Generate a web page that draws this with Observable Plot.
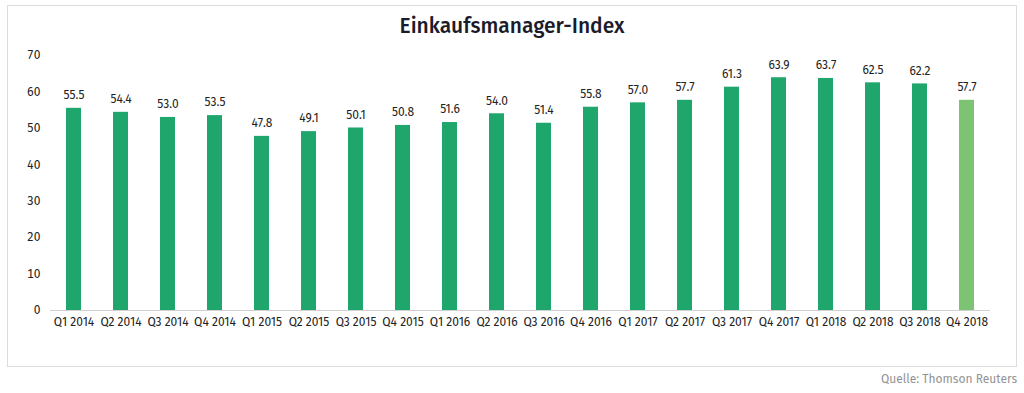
<!DOCTYPE html>
<html>
<head>
<meta charset="utf-8">
<script src="https://cdn.jsdelivr.net/npm/d3@7"></script>
<script src="https://cdn.jsdelivr.net/npm/@observablehq/plot@0.6"></script>
<style>
  html, body { margin: 0; padding: 0; background: #fff; width: 1024px; height: 393px; overflow: hidden; }
  body { font-family: "Fira Sans", Lato, "Noto Sans", sans-serif; position: relative; }
  #frame { position: absolute; left: 7px; top: 5px; width: 1010px; height: 362px; border: 1px solid #dcdcdc; box-sizing: border-box; }
  #title { position: absolute; left: 0; top: 13px; width: 1024px; text-align: center; font-size: 21px; font-weight: 500; color: #1b1b2b; }
  #chart { position: absolute; left: 0; top: 40px; }
  #source { position: absolute; right: 7px; top: 372px; font-size: 12px; color: #939393; }
</style>
</head>
<body>
<div id="frame"></div>
<div id="title">Einkaufsmanager-Index</div>
<div id="chart"></div>
<div id="source">Quelle: Thomson Reuters</div>
<script>
const quarters = ["Q1 2014","Q2 2014","Q3 2014","Q4 2014","Q1 2015","Q2 2015","Q3 2015","Q4 2015","Q1 2016","Q2 2016","Q3 2016","Q4 2016","Q1 2017","Q2 2017","Q3 2017","Q4 2017","Q1 2018","Q2 2018","Q3 2018","Q4 2018"];
const values = [55.5, 54.4, 53.0, 53.5, 47.8, 49.1, 50.1, 50.8, 51.6, 54.0, 51.4, 55.8, 57.0, 57.7, 61.3, 63.9, 63.7, 62.5, 62.2, 57.7];
const yTicks = [0, 10, 20, 30, 40, 50, 60, 70];

const data = quarters.map((q, i) => ({q, v: values[i], last: i === quarters.length - 1}));

const chart = Plot.plot({
  width: 1024,
  height: 300,
  marginTop: 15,
  marginBottom: 30,
  marginLeft: 50,
  marginRight: 34,
  style: {fontFamily: '"Fira Sans", Lato, "Noto Sans", sans-serif', fontSize: "12px", color: "#222"},
  x: {domain: quarters, paddingInner: 0.69, paddingOuter: 0.345, label: null, tickSize: 0, tickPadding: 7},
  y: {domain: [0, 70], ticks: yTicks, label: null, tickSize: 0, tickPadding: 10},
  marks: [
    Plot.barY(data, {x: "q", y: "v", fill: d => d.last ? "#7cc474" : "#1ea66c"}),
    Plot.ruleY([0], {stroke: "#d0d0d0", strokeWidth: 1}),
    Plot.text(data, {x: "q", y: "v", text: d => d.v.toFixed(1), dy: -13, fill: "#222", fontSize: 12})
  ]
});
document.getElementById("chart").appendChild(chart);
</script>
</body>
</html>
